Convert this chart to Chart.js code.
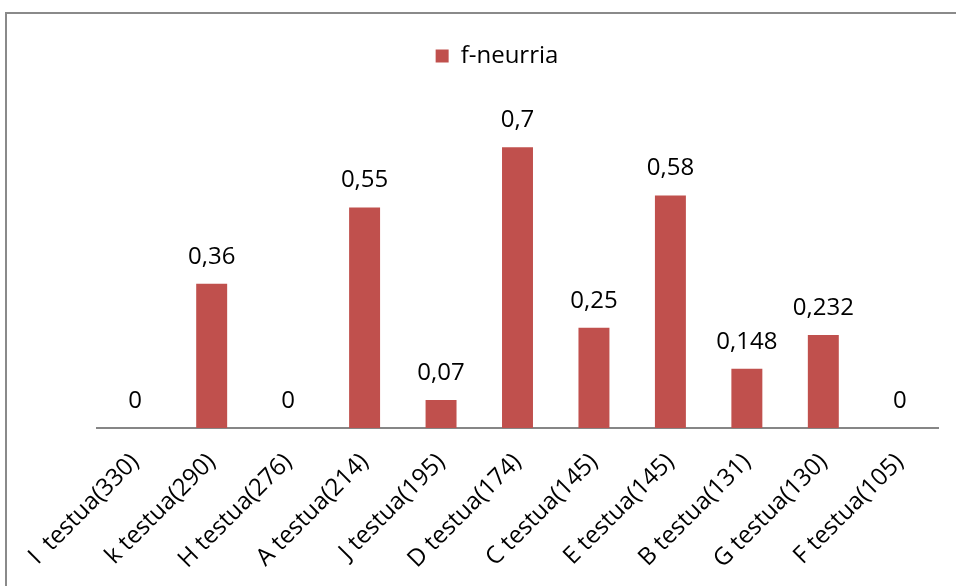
<!DOCTYPE html>
<html lang="eu">
<head>
    <title>f-neurria</title>
    <meta charset="utf-8">
    <script src="https://cdn.jsdelivr.net/npm/chart.js"></script>
    <style>
        html, body { margin: 0; padding: 0; background: #fff; overflow: hidden; }
        #frame {
            position: absolute; left: 5px; top: 12px; width: 1200px; height: 800px;
            border-left: 2px solid #8a8a8a; border-top: 2px solid #8a8a8a;
        }
        #box { position: absolute; left: 0; top: 0; width: 956px; height: 586px; }
    </style>
</head>
<body>
    <div id="frame"></div>
    <div id="box"><canvas id="grafikoa"></canvas></div>

    <script>
        // datuak
        const testuak = ['I  testua(330)', 'k testua(290)', 'H testua(276)', 'A testua(214)', 'J testua(195)',
            'D testua(174)', 'C testua(145)', 'E testua(145)', 'B testua(131)', 'G testua(130)', 'F testua(105)'];
        const fNeurria = [0, 0.36, 0, 0.55, 0.07, 0.7, 0.25, 0.58, 0.148, 0.232, 0];
        const serieIzena = 'f-neurria';

        const letra = 'Open Sans';
        const gorria = '#C0504D';

        // balioak barren gainean idatzi
        const balioEtiketak = {
            id: 'balioEtiketak',
            afterDatasetsDraw(chart) {
                const ctx = chart.ctx;
                const meta = chart.getDatasetMeta(0);
                ctx.save();
                ctx.font = '24px "' + letra + '"';
                ctx.fillStyle = '#000';
                ctx.textAlign = 'center';
                ctx.textBaseline = 'middle';
                meta.data.forEach((bar, i) => {
                    const testua = String(fNeurria[i]).replace('.', ',');
                    ctx.fillText(testua, bar.x, bar.y - 27);
                });
                ctx.restore();
            }
        };

        new Chart(document.getElementById('grafikoa'), {
            type: 'bar',
            data: {
                labels: testuak,
                datasets: [{
                    label: serieIzena,
                    data: fNeurria,
                    backgroundColor: gorria,
                    borderWidth: 0,
                    barPercentage: 0.405,
                    categoryPercentage: 1
                }]
            },
            options: {
                responsive: true,
                maintainAspectRatio: false,
                animation: false,
                layout: { padding: { top: 42, left: 56, right: 18, bottom: 0 } },
                plugins: {
                    legend: {
                        position: 'top',
                        labels: {
                            boxWidth: 13,
                            boxHeight: 13,
                            padding: 2,
                            color: '#000',
                            font: { family: letra, size: 24 }
                        }
                    },
                    tooltip: { enabled: false }
                },
                scales: {
                    x: {
                        grid: { display: false },
                        border: { display: true, color: '#868686', width: 2 },
                        ticks: {
                            color: '#000',
                            font: { family: letra, size: 24 },
                            minRotation: 45,
                            maxRotation: 45,
                            autoSkip: false,
                            padding: 12
                        }
                    },
                    y: {
                        min: 0,
                        max: 0.873,
                        grid: { display: false },
                        border: { display: false },
                        ticks: { display: false },
                        // ardatza ezkutuan, baina lekua gordeta
                        afterFit(scale) { scale.width = 41; }
                    }
                }
            },
            plugins: [balioEtiketak]
        });
    </script>
</body>
</html>
